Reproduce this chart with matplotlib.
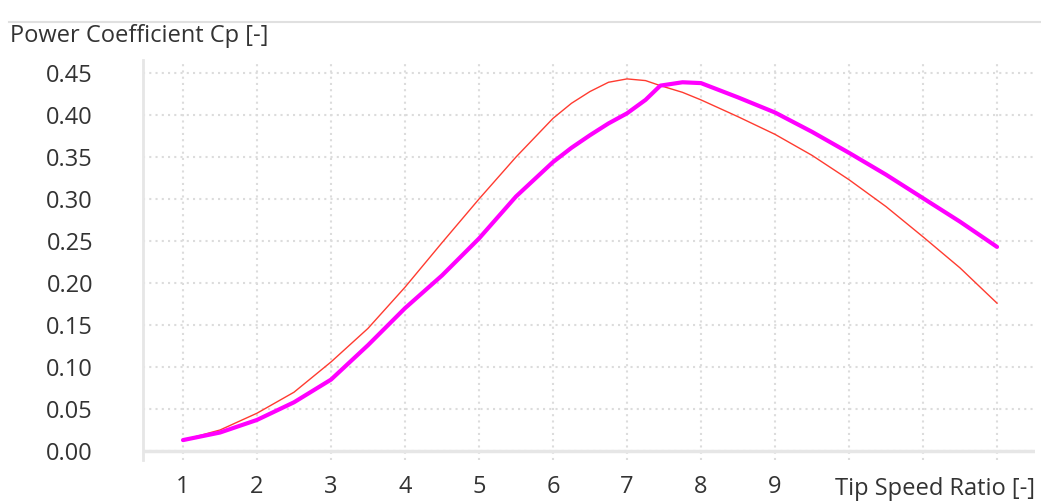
import numpy as np
import matplotlib.pyplot as plt
from matplotlib.lines import Line2D

# tip speed ratio samples and the two Cp curves
tsr = [1, 1.5, 2, 2.5, 3, 3.5, 4, 4.5, 5, 5.5, 6, 6.25, 6.5, 6.75, 7, 7.25, 7.45,
       7.75, 8, 8.5, 9, 9.5, 10, 10.5, 11, 11.5, 12]
cp_red = [0.013, 0.025, 0.045, 0.070, 0.106, 0.146, 0.195, 0.248, 0.300, 0.350,
          0.396, 0.414, 0.428, 0.439, 0.443, 0.441, 0.435, 0.427, 0.418, 0.398,
          0.377, 0.352, 0.323, 0.291, 0.255, 0.218, 0.176]
cp_magenta = [0.013, 0.022, 0.037, 0.058, 0.085, 0.126, 0.170, 0.209, 0.253, 0.303,
              0.344, 0.361, 0.376, 0.390, 0.402, 0.418, 0.435, 0.439, 0.438, 0.421,
              0.403, 0.380, 0.355, 0.329, 0.301, 0.273, 0.243]

yticks = [0.00, 0.05, 0.10, 0.15, 0.20, 0.25, 0.30, 0.35, 0.40, 0.45]
xticks = list(range(1, 13))
xtick_labels = [str(t) if t <= 9 else "" for t in xticks]

plt.rcParams['font.family'] = ['Open Sans', 'DejaVu Sans']
txt_col = "#333333"
grid_col = "#dcdcdc"

fig = plt.figure(figsize=(10.41, 5.03), dpi=100)
ax = fig.add_axes([0.1374, 0.0855, 0.8566, 0.7952])

ax.plot(tsr, cp_red, color="#ff3b30", lw=1.0, zorder=3)
ax.plot(tsr, cp_magenta, color="#ff00ff", lw=3.0, zorder=4, solid_capstyle="round")

ax.set_xlim(0.46, 12.51)
ax.set_ylim(-0.0107, 0.4655)
ax.set_xticks(xticks)
ax.set_xticklabels(xtick_labels)
ax.set_yticks(yticks)
ax.set_yticklabels(["%.2f" % v for v in yticks])
ax.tick_params(axis="both", length=0, labelsize=17, colors=txt_col)
ax.tick_params(axis="y", pad=36)
ax.tick_params(axis="x", pad=11)

ax.grid(True, color=grid_col, lw=1.5, linestyle=(0, (1, 2)))
ax.set_axisbelow(True)
for side in ["top", "right", "bottom"]:
    ax.spines[side].set_visible(False)
ax.spines["left"].set_color("#e6e6e6")
ax.spines["left"].set_linewidth(2)
ax.axhline(0, color="#e6e6e6", lw=2.5, zorder=2)

fig.text(10 / 1041, 1 - 36 / 503, "Power Coefficient Cp [-]", fontsize=17,
         color=txt_col, ha="left", va="center")
ax.text(1.0, -0.072, "Tip Speed Ratio [-]", transform=ax.transAxes, fontsize=17,
        color=txt_col, ha="right", va="center")

# thin rule along the top edge
fig.add_artist(Line2D([9 / 1041, 1.0], [1 - 22 / 503, 1 - 22 / 503],
                      transform=fig.transFigure, color="#e0e0e0", lw=1.5))

fig.savefig("out.png", dpi=100)
